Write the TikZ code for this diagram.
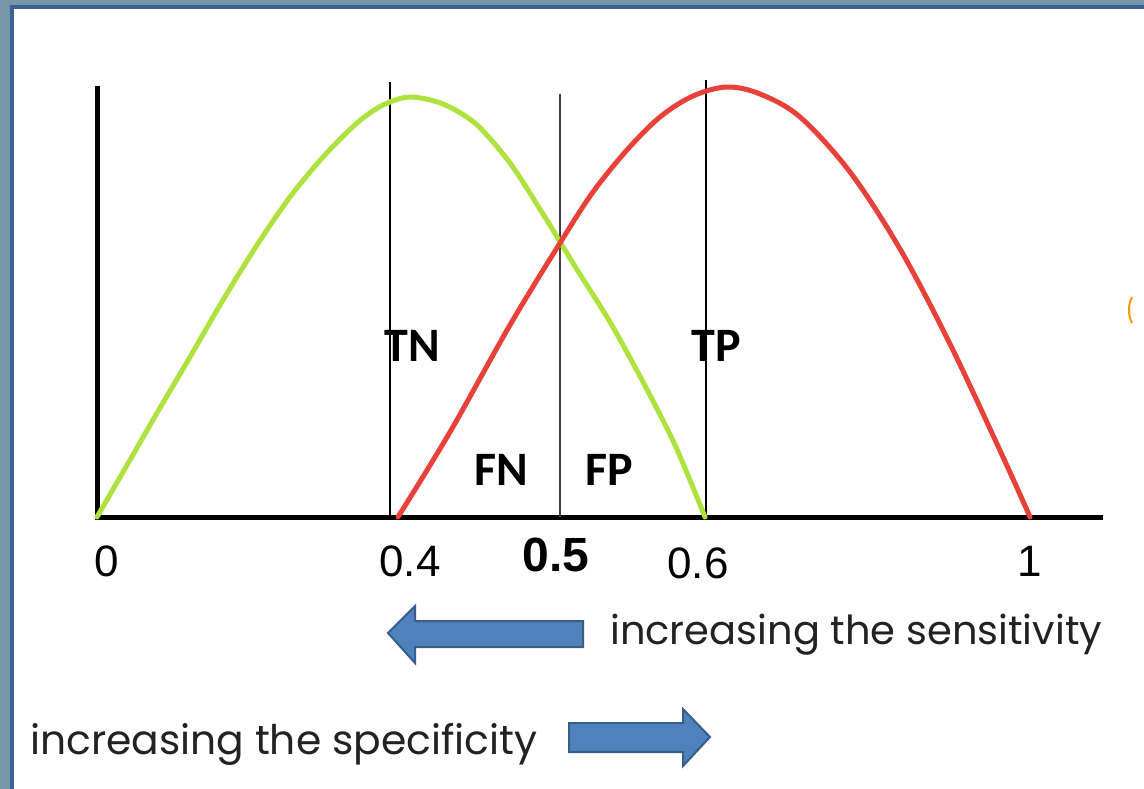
\documentclass[tikz,border=0pt]{standalone}
\usepackage{fontspec}
\setmainfont{Liberation Sans}
\newfontfamily\calib{Carlito}
\newfontfamily\gothic{Poppins}
\definecolor{bgtex}{HTML}{7496A6}
\definecolor{frameblue}{HTML}{3B6196}
\definecolor{curvegreen}{HTML}{AEE23E}
\definecolor{curvered}{HTML}{E8413A}
\definecolor{arrowfill}{HTML}{4F81BD}
\definecolor{arrowline}{HTML}{385D8A}
\definecolor{textgray}{HTML}{222222}
\begin{document}
\begin{tikzpicture}[x=1pt,y=-1pt,
  axis/.style={line width=5pt,black},
  vline/.style={line width=1.5pt,black},
  curve/.style={line width=5pt,line join=round,line cap=round},
  region/.style={inner sep=0pt,font=\calib\bfseries\fontsize{48}{48}\selectfont},
  tick/.style={inner sep=0pt,font=\fontsize{44}{44}\selectfont},
  caption/.style={inner sep=0pt,anchor=base west,text=textgray,font=\gothic\fontsize{40}{40}\selectfont},
  blockarrow/.style={fill=arrowfill,draw=arrowline,line width=2pt,line join=miter}]
\useasboundingbox (0,0) rectangle (1144,789);
\fill[bgtex] (0,0) rectangle (1144,789);
\fill[frameblue] (10,5) rectangle (1144,789);
\fill[white] (14,9) rectangle (1144,789);
% partial glyph at right edge
\draw[orange!80!yellow,line width=2pt] (1132,297) .. controls (1128,305) and (1128,315) .. (1132,323);
% axes
\coordinate (top) at (97.5,86);
\coordinate (origin) at (97.5,519.5);
\coordinate (xstart) at (95,517);
\coordinate (xend) at (1103,517);
\draw[axis] (top) -- (origin);
\draw[axis] (xstart) -- (xend);
% vertical threshold lines
\coordinate (a4) at (390,82);  \coordinate (b4) at (390,517);
\coordinate (a5) at (560,94);  \coordinate (b5) at (560,517);
\coordinate (a6) at (706,80);  \coordinate (b6) at (706,517);
\draw[vline] (a4) -- (b4);
\draw[line width=2.2pt,black!75] (a5) -- (b5);
\draw[vline] (a6) -- (b6);
% curves
\draw[curve,curvegreen] plot[smooth,tension=0.5] coordinates {(97,517) (130,460) (157,413) (190,357) (223,300) (257,245) (290,197) (323,157) (357,123) (383,105) (410,97) (443,104) (476,124) (510,163) (543,214) (576,268) (610,322) (643,382) (675,445) (705,517)};
\draw[curve,curvered] plot[smooth,tension=0.55] coordinates {(398,517) (450,432) (510,325) (560,243) (593,192) (627,150) (660,117) (693,96) (727,87) (760,94) (800,117) (850,172) (900,249) (950,344) (1003,457) (1030,517)};
% region labels
\node[region] (tn) at (412,345.5) {TN};
\node[region] (fn) at (501,470) {FN};
\node[region] (fp) at (609,470) {FP};
\node[region] (tp) at (716,345.5) {TP};
% tick labels
\node[tick] (t0) at (107,561) {0};
\node[tick] (t4) at (410,561) {0.4};
\node[tick,font=\bfseries\fontsize{48}{48}\selectfont] (t5) at (556,555) {0.5};
\node[tick] (t6) at (698,563) {0.6};
\node[tick] (t1) at (1030,561) {1};
% block arrows
\draw[blockarrow] (388,633) -- (415,606) -- (415,621) -- (583,621) -- (583,647) -- (415,647) -- (415,663) -- cycle;
\draw[blockarrow] (569,723) -- (683,723) -- (683,709) -- (710,737) -- (683,766) -- (683,752) -- (569,752) -- cycle;
% captions
\node[caption] (sens) at (610,644) {increasing the sensitivity};
\node[caption,font=\gothic\fontsize{40.8}{40.8}\selectfont] (spec) at (30,754) {increasing the specificity};
\end{tikzpicture}
\end{document}
